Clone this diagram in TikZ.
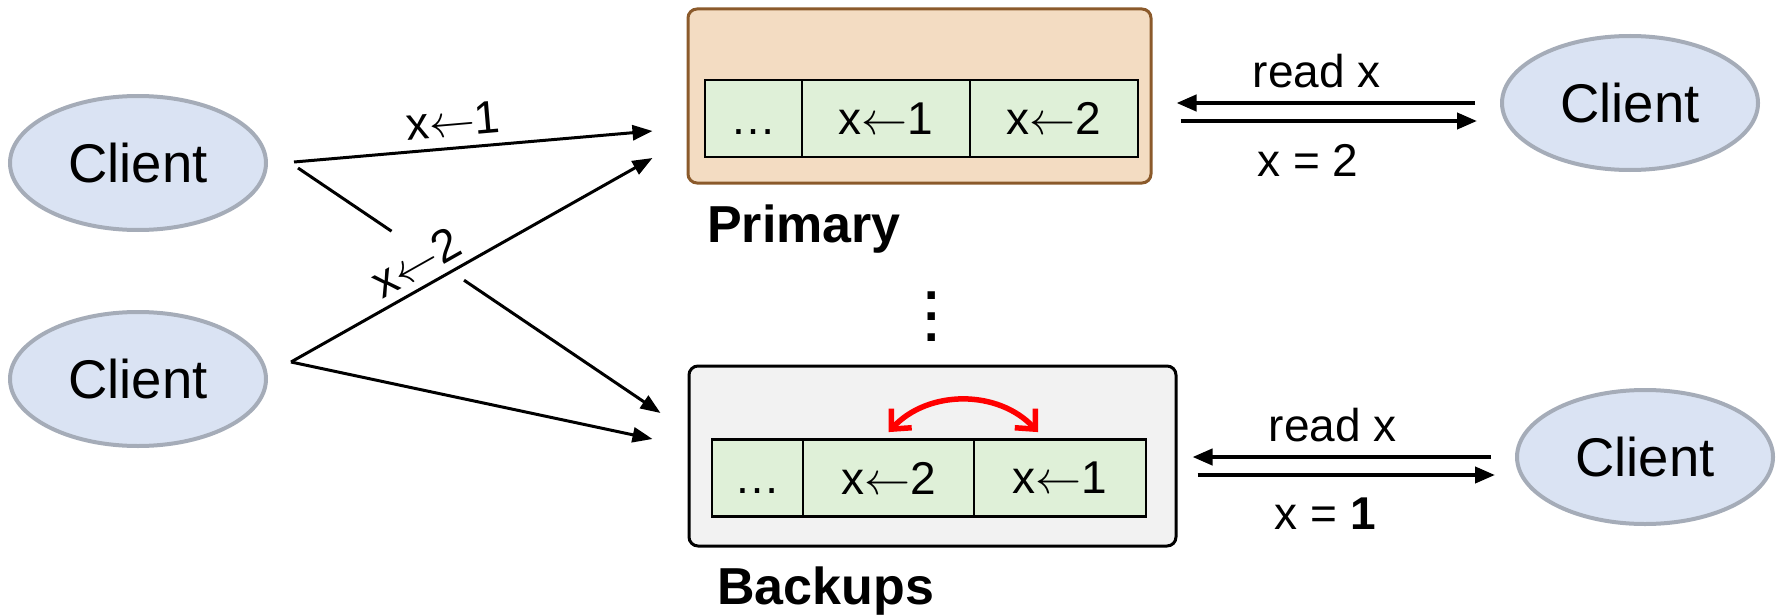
\documentclass[tikz,border=0pt]{standalone}
\usepackage{fix-cm}
\usepackage{fontspec}
\setmainfont{Liberation Sans}
\usetikzlibrary{shapes.geometric,arrows.meta,calc}

\definecolor{clientfill}{HTML}{DAE3F3}
\definecolor{clientline}{HTML}{A5ACB8}
\definecolor{primfill}{HTML}{F3DCC2}
\definecolor{primline}{HTML}{8B5A2B}
\definecolor{backfill}{HTML}{F2F2F2}
\definecolor{cellfill}{HTML}{DFF0D8}
\definecolor{swapred}{HTML}{FF0000}

\newcommand\lblfont{\fontsize{46}{52}\selectfont}
\newcommand\clientfont{\fontsize{54.5}{60}\selectfont}
\newcommand\headfont{\fontsize{52}{58}\selectfont\bfseries}
\newcommand\logdots{\vphantom{x1}\ldots}

\begin{document}
\begin{tikzpicture}[x=1pt,y=-1pt,
  client/.style={ellipse, draw=clientline, fill=clientfill, line width=4pt,
    minimum width=256pt, minimum height=134pt, inner sep=0pt, font=\clientfont},
  primbox/.style={draw=primline, fill=primfill, line width=3pt, rounded corners=9pt,
    minimum width=463pt, minimum height=174pt, inner sep=0pt},
  backbox/.style={draw=black, fill=backfill, line width=3pt, rounded corners=9pt,
    minimum width=487pt, minimum height=180pt, inner sep=0pt},
  cell/.style={draw=black, fill=cellfill, line width=2.8pt, minimum height=77pt,
    inner sep=0pt, font=\lblfont},
  heading/.style={font=\headfont, inner sep=0pt, anchor=base west},
  lbl/.style={font=\lblfont, inner sep=0pt},
  conn/.style={line width=3pt, -{Triangle[length=20pt,width=15pt]}},
  readarr/.style={line width=4pt, -{Triangle[length=20pt,width=16pt]}},
  swap/.style={draw=swapred, line width=5.5pt,
    {Straight Barb[length=15pt,width=28pt]}-{Straight Barb[length=15pt,width=28pt]}}
]
\useasboundingbox (0,0) rectangle (1779,615);

% clients
\node[client] (c1) at (138,163) {Client};
\node[client] (c2) at (138,379) {Client};
\node[client] (c3) at (1630,103) {Client};
\node[client] (c4) at (1645,457) {Client};

% primary replica and its log
\node[primbox] (prim) at (919.5,96) {};
\node[cell, minimum width=97pt]  (p1) at (753.5,118.5) {\logdots};
\node[cell, minimum width=168pt] (p2) at (886,118.5) {x$\leftarrow$1};
\node[cell, minimum width=168pt] (p3) at (1054,118.5) {x$\leftarrow$2};
\node[heading] (primlbl) at (707,242) {Primary};

% vertical ellipsis between the replicas
\node[font=\fontsize{52}{21}\selectfont\bfseries, align=center, inner sep=0pt]
  (dots) at (932,317) {.\\.\\.};

% backup replica and its log
\node[backbox] (back) at (932.5,456) {};
\node[cell, minimum width=91pt]  (b1) at (757.5,478) {\logdots};
\node[cell, minimum width=171pt] (b2) at (888.5,478) {x$\leftarrow$2};
\node[cell, minimum width=172pt] (b3) at (1060,478) {x$\leftarrow$1};
\node[heading] (backlbl) at (717,604) {Backups};

% reordered entries in the backup log
\coordinate (sa) at ($(b2.north)+(0,-6)$);
\coordinate (sb) at ($(b3.north)+(-22,-6)$);
\draw[swap] (sa) to[bend left=47] (sb);

% writes from the two clients
\coordinate (c1a) at ($(c1.east)+(26,-1)$);
\coordinate (c1b) at ($(c1.east)+(30,5)$);
\coordinate (c2a) at ($(c2.east)+(23,-17)$);
\coordinate (pa) at ($(prim.west)+(-34,35)$);
\coordinate (pb) at ($(prim.west)+(-34,62)$);
\coordinate (ba) at ($(back.west)+(-27,-43)$);
\coordinate (bb) at ($(back.west)+(-35,-17)$);

\draw[conn] (c1a) -- node[lbl, pos=0.45, sloped, above=10pt] (w1) {x$\leftarrow$1} (pa);
\draw[line width=3pt] (c1b) -- ($(c1b)!0.258!(ba)$);
\draw[conn] ($(c1b)!0.458!(ba)$) -- (ba);
\draw[conn] (c2a) -- node[lbl, pos=0.38, sloped, above=8pt] (w2) {x$\leftarrow$2} (pb);
\draw[conn] (c2a) -- (bb);

% reads against the primary
\coordinate (r1s) at ($(c3.west)+(-25,0)$);
\coordinate (r1e) at ($(prim.east)+(24,7)$);
\coordinate (r2s) at ($(prim.east)+(28,25)$);
\coordinate (r2e) at ($(c3.west)+(-23,18)$);
\draw[readarr] (r1s) -- node[lbl, pos=0.53, above=13pt] (q1) {read x} (r1e);
\draw[readarr] (r2s) -- node[lbl, pos=0.43, below=21pt] (a1) {x = 2} (r2e);

% reads against a backup
\coordinate (r3s) at ($(c4.west)+(-24,0)$);
\coordinate (r3e) at ($(back.east)+(15,1)$);
\coordinate (r4s) at ($(back.east)+(20,19)$);
\coordinate (r4e) at ($(c4.west)+(-20,18)$);
\draw[readarr] (r3s) -- node[lbl, pos=0.53, above=13pt] (q2) {read x} (r3e);
\draw[readarr] (r4s) -- node[lbl, pos=0.43, below=21pt] (a2) {x = \textbf{1}} (r4e);
\end{tikzpicture}
\end{document}
